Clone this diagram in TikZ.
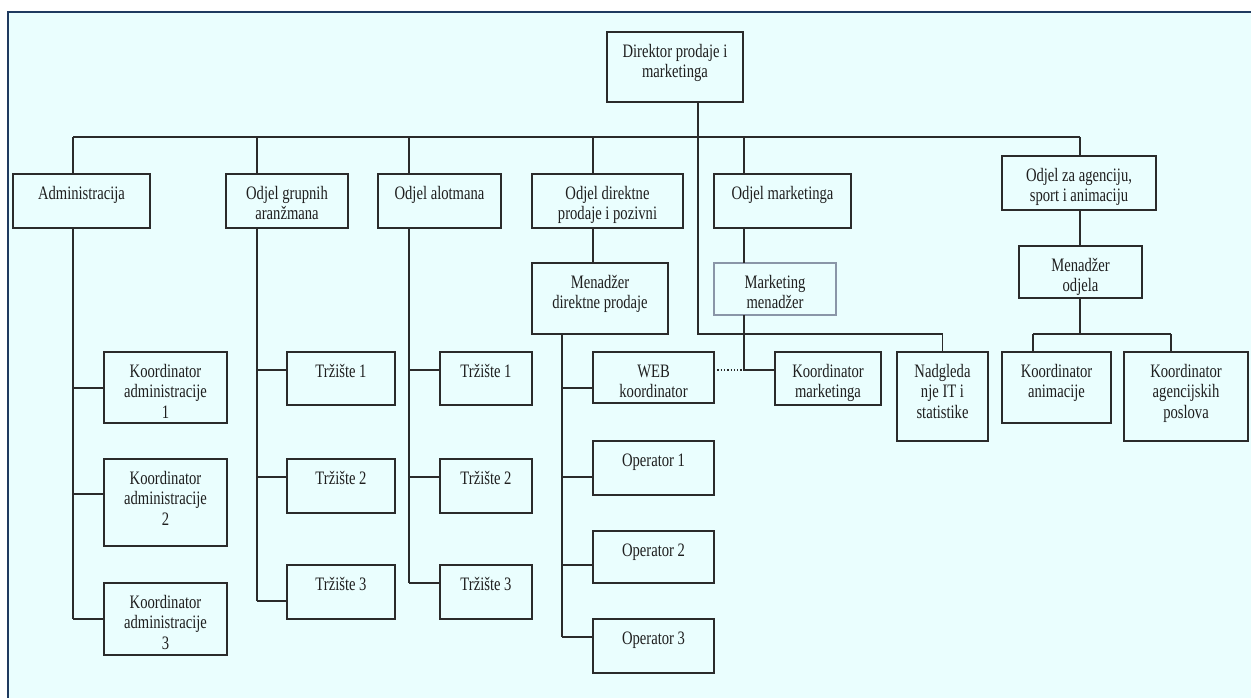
\documentclass[tikz,border=0pt]{standalone}
\usepackage{fontspec}
\setmainfont{Liberation Serif}
\newfontfamily\tallfont[FakeStretch=0.77]{Liberation Serif}
\usetikzlibrary{calc}
\definecolor{bgcol}{HTML}{EAFEFE}
\definecolor{framecol}{HTML}{1F3A5F}
\definecolor{linecol}{HTML}{2B2B2B}
\definecolor{graybox}{HTML}{8A96A8}
\tikzset{
  boxst/.style={draw=linecol, line width=1.3pt, inner sep=0pt, outer sep=0pt, anchor=north west},
  txt/.style={align=center, inner sep=0pt, anchor=north, text=black!88, font=\tallfont\fontsize{19}{20.5}\selectfont},
  conn/.style={draw=linecol, line width=1.3pt},
}
\newcommand{\orgbox}[7][]{%
  \node[boxst, #1, minimum width={(#4-#2)*1pt}, minimum height={(#5-#3)*1pt}] (#6) at (#2,#3) {};
  \node[txt, yshift=-10.5pt] (#6-t) at (#6.north) {\strut #7};
}
\newcommand{\branch}[3]{%
  \path ($(#2.north west)+(0,#3)$) coordinate (#2-b);
  \draw[conn] (#1 |- #2-b) -- (#2-b);
}
\begin{document}
\begin{tikzpicture}[x=1pt,y=-1pt]
\useasboundingbox (0,0) rectangle (1251,697);
\fill[white] (0,0) rectangle (1251,697);
\draw[framecol, line width=1.6pt, fill=bgcol] (8,12) rectangle (1265,712);

% boxes
\orgbox{607}{32}{743}{102}{dir}{Direktor prodaje i\\marketinga}
\orgbox{13}{174}{150}{228}{adm}{Administracija}
\orgbox{226}{174}{348}{228}{grp}{Odjel grupnih\\aranžmana}
\orgbox{378}{174}{501}{228}{alo}{Odjel alotmana}
\orgbox{532}{174}{683}{228}{dp}{Odjel direktne\\prodaje i pozivni}
\orgbox{714}{174}{851}{228}{mkt}{Odjel marketinga}
\orgbox{1002}{156}{1156}{210}{ag}{Odjel za agenciju,\\sport i animaciju}
\orgbox{532}{263}{668}{334}{mdp}{Menadžer\\direktne prodaje}
\orgbox[draw=graybox]{714}{263}{836}{315}{mm}{Marketing\\menadžer}
\orgbox{1019}{246}{1142}{298}{mo}{Menadžer\\odjela}
\orgbox{104}{352}{227}{423}{ka1}{Koordinator\\administracije\\1}
\orgbox{104}{459}{227}{546}{ka2}{Koordinator\\administracije\\2}
\orgbox{104}{583}{227}{655}{ka3}{Koordinator\\administracije\\3}
\orgbox{287}{352}{395}{405}{gt1}{Tržište 1}
\orgbox{287}{459}{395}{513}{gt2}{Tržište 2}
\orgbox{287}{565}{395}{619}{gt3}{Tržište 3}
\orgbox{440}{352}{532}{405}{at1}{Tržište 1}
\orgbox{440}{459}{532}{513}{at2}{Tržište 2}
\orgbox{440}{565}{532}{619}{at3}{Tržište 3}
\orgbox{593}{352}{714}{403}{web}{WEB\\koordinator}
\orgbox{593}{441}{714}{495}{op1}{Operator 1}
\orgbox{593}{531}{714}{583}{op2}{Operator 2}
\orgbox{593}{619}{714}{673}{op3}{Operator 3}
\orgbox{775}{352}{881}{405}{km}{Koordinator\\marketinga}
\orgbox{897}{352}{988}{441}{nit}{Nadgleda\\nje IT i\\statistike}
\orgbox{1002}{352}{1111}{423}{kan}{Koordinator\\animacije}
\orgbox{1124}{352}{1248}{441}{kap}{Koordinator\\agencijskih\\poslova}

% column coordinates
\coordinate (cA) at (73,137);
\coordinate (cG) at (257,137);
\coordinate (cL) at (409,137);
\coordinate (cD) at (593,137);
\coordinate (cM) at (744,137);
\coordinate (cX) at (1080,137);
\coordinate (cDir) at (698,137);
\coordinate (dturn) at (698,334);
\coordinate (cO) at (562,334);
\coordinate (aj) at (1080,334);
\coordinate (ajL) at (1033,334);
\coordinate (ajR) at (1171,334);

% main bus
\draw[conn] (cA) -- (cX);
\draw[conn] (dir.south -| cDir) -- (dturn) -| (nit.north);
\draw[conn] (cA) -- (cA |- adm.north);
\draw[conn] (cG) -- (cG |- grp.north);
\draw[conn] (cL) -- (cL |- alo.north);
\draw[conn] (cD) -- (cD |- dp.north);
\draw[conn] (cM) -- (cM |- mkt.north);
\draw[conn] (cX) -- (cX |- ag.north);

% administration
\branch{cA}{ka1}{36}
\branch{cA}{ka2}{35}
\branch{cA}{ka3}{36}
\draw[conn] (cA |- adm.south) -- (cA |- ka3-b);

% grupni
\branch{cG}{gt1}{18}
\branch{cG}{gt2}{18}
\branch{cG}{gt3}{36}
\draw[conn] (cG |- grp.south) -- (cG |- gt3-b);

% alotman
\branch{cL}{at1}{18}
\branch{cL}{at2}{18}
\branch{cL}{at3}{18}
\draw[conn] (cL |- alo.south) -- (cL |- at3-b);

% direktna prodaja
\draw[conn] (cD |- dp.south) -- (cD |- mdp.north);
\branch{cO}{web}{36}
\branch{cO}{op1}{36}
\branch{cO}{op2}{34}
\branch{cO}{op3}{18}
\draw[conn] (cO) -- (cO |- op3-b);

% marketing
\draw[conn] (cM |- mkt.south) -- (cM |- mm.north);
\path ($(km.north west)+(0,18)$) coordinate (kmb);
\draw[conn] (cM |- mm.south) |- (kmb);
\draw[draw=linecol, line width=1.3pt, dotted] (web.east |- kmb) -- (cM |- kmb);

% agencija
\draw[conn] (cX |- ag.south) -- (cX |- mo.north);
\draw[conn] (aj |- mo.south) -- (aj);
\draw[conn] (ajL) -- (ajR);
\draw[conn] (ajL) -- (ajL |- kan.north);
\draw[conn] (ajR) -- (ajR |- kap.north);
\end{tikzpicture}
\end{document}
